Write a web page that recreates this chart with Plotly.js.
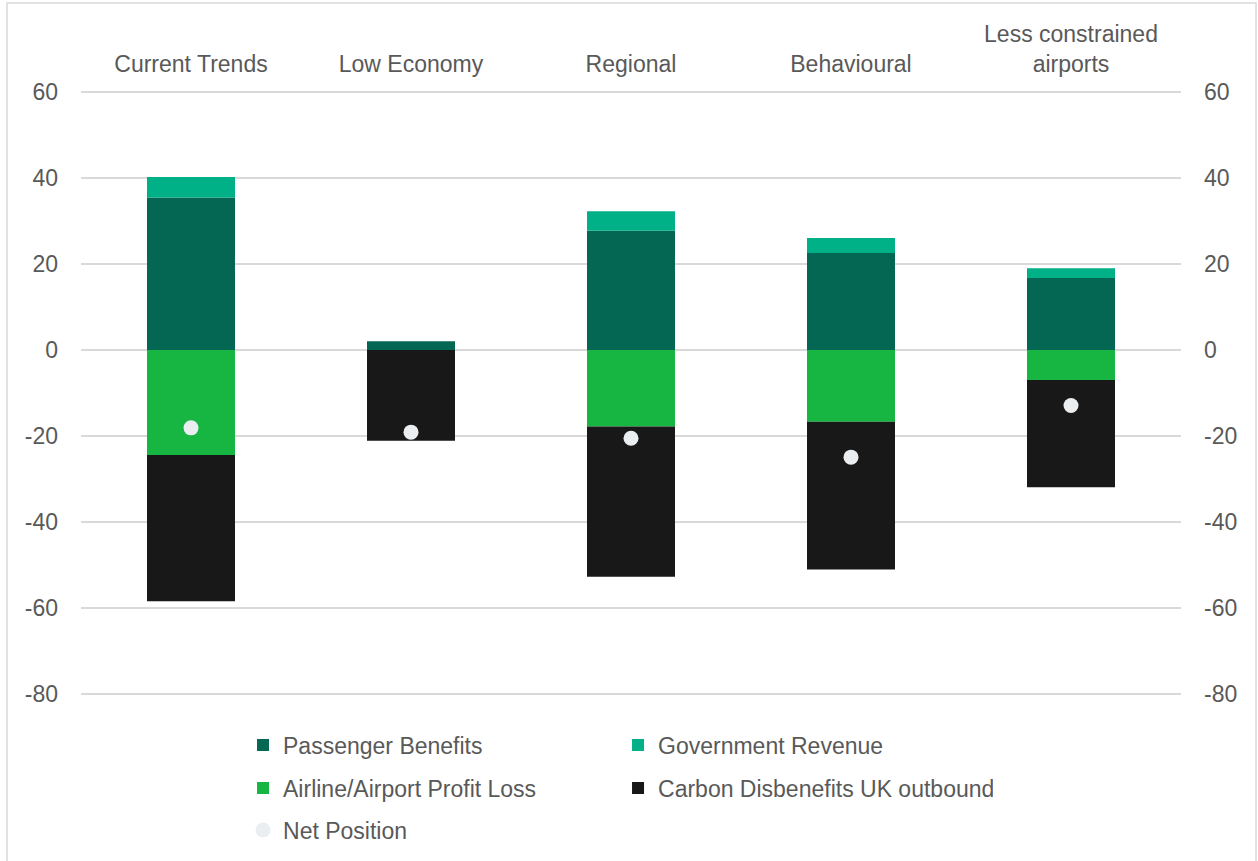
<!DOCTYPE html>
<html>
<head>
<meta charset="utf-8">
<script src="https://cdn.plot.ly/plotly-3.0.1.min.js"></script>
<style>
html,body{margin:0;padding:0;background:#ffffff;}
#chart{width:1258px;height:861px;}
</style>
</head>
<body>
<div id="chart"></div>
<script>
// ---- data ----
const categories = ['Current Trends', 'Low Economy', 'Regional', 'Behavioural', 'Less constrained<br>airports'];
const passengerBenefits = [35.4, 2.0, 27.7, 22.5, 16.7];
const governmentRevenue = [4.8, 0.0, 4.5, 3.5, 2.3];
const airlineProfitLoss = [-24.4, 0.0, -17.8, -16.7, -7.0];
const carbonDisbenefits = [-34.0, -21.1, -34.9, -34.3, -24.9];
const netPosition = [-18.1, -19.1, -20.5, -24.9, -12.9];
const yTickValues = [60, 40, 20, 0, -20, -40, -60, -80];

const FONT = 'Liberation Sans, Arial, sans-serif';
const TXT = '#595959';
const GRID = '#d9d9d9';

function bar(name, y, color, legend) {
  return {
    type: 'bar', name: name, x: categories, y: y,
    width: 0.4, legend: legend,
    marker: {color: color, line: {width: 0}},
    hoverinfo: 'name+y'
  };
}

const traces = [
  bar('Passenger Benefits', passengerBenefits, '#036754', 'legend'),
  bar('Government Revenue', governmentRevenue, '#00B086', 'legend'),
  bar('Airline/Airport Profit Loss', airlineProfitLoss, '#17B542', 'legend2'),
  bar('Carbon Disbenefits UK outbound', carbonDisbenefits, '#181818', 'legend2'),
  {
    type: 'scatter', mode: 'markers', name: 'Net Position',
    x: categories, y: netPosition, legend: 'legend3',
    marker: {color: '#EBEEF0', size: 15, line: {width: 0}}
  },
  {
    // carrier for the mirrored right-hand axis
    type: 'scatter', mode: 'markers', x: categories, y: netPosition,
    yaxis: 'y2', showlegend: false, hoverinfo: 'skip',
    marker: {opacity: 0}
  }
];

const legendCommon = {
  orientation: 'h', xref: 'paper', yref: 'paper',
  xanchor: 'left', yanchor: 'middle',
  font: {family: FONT, size: 23, color: TXT},
  entrywidth: 330, entrywidthmode: 'pixels',
  bgcolor: 'rgba(0,0,0,0)', traceorder: 'normal',
  itemclick: false, itemdoubleclick: false
};

const axisY = {
  range: [-80.4, 60.4], tickvals: yTickValues, ticktext: yTickValues.map(String),
  showgrid: true, gridcolor: GRID, gridwidth: 1.5,
  zeroline: false, showline: false, ticks: '',
  ticklabelstandoff: 22,
  tickfont: {family: FONT, size: 23, color: TXT},
  fixedrange: true
};

const layout = {
  width: 1258, height: 861,
  margin: {l: 81, r: 77, t: 90, b: 165, autoexpand: false},
  paper_bgcolor: '#ffffff', plot_bgcolor: '#ffffff',
  barmode: 'relative', bargap: 0.6,
  showlegend: true,
  xaxis: {
    side: 'top', type: 'category', showgrid: false, zeroline: false,
    showline: false, ticks: '', ticklabelstandoff: 12,
    tickfont: {family: FONT, size: 23, color: TXT},
    fixedrange: true
  },
  yaxis: Object.assign({}, axisY, {side: 'left'}),
  yaxis2: Object.assign({}, axisY, {side: 'right', overlaying: 'y', showgrid: false}),
  legend: Object.assign({}, legendCommon, {x: 0.1473, y: -0.0809}),
  legend2: Object.assign({}, legendCommon, {x: 0.1473, y: -0.1518}),
  legend3: Object.assign({}, legendCommon, {x: 0.1473, y: -0.2211}),
  shapes: [{
    type: 'rect', xref: 'paper', yref: 'paper', layer: 'below',
    x0: -0.0673, x1: 1.0682, y0: -0.30, y1: 1.1436,
    line: {color: GRID, width: 1.5}, fillcolor: 'rgba(0,0,0,0)'
  }]
};

Plotly.newPlot('chart', traces, layout, {displayModeBar: false, staticPlot: false});
</script>
</body>
</html>
